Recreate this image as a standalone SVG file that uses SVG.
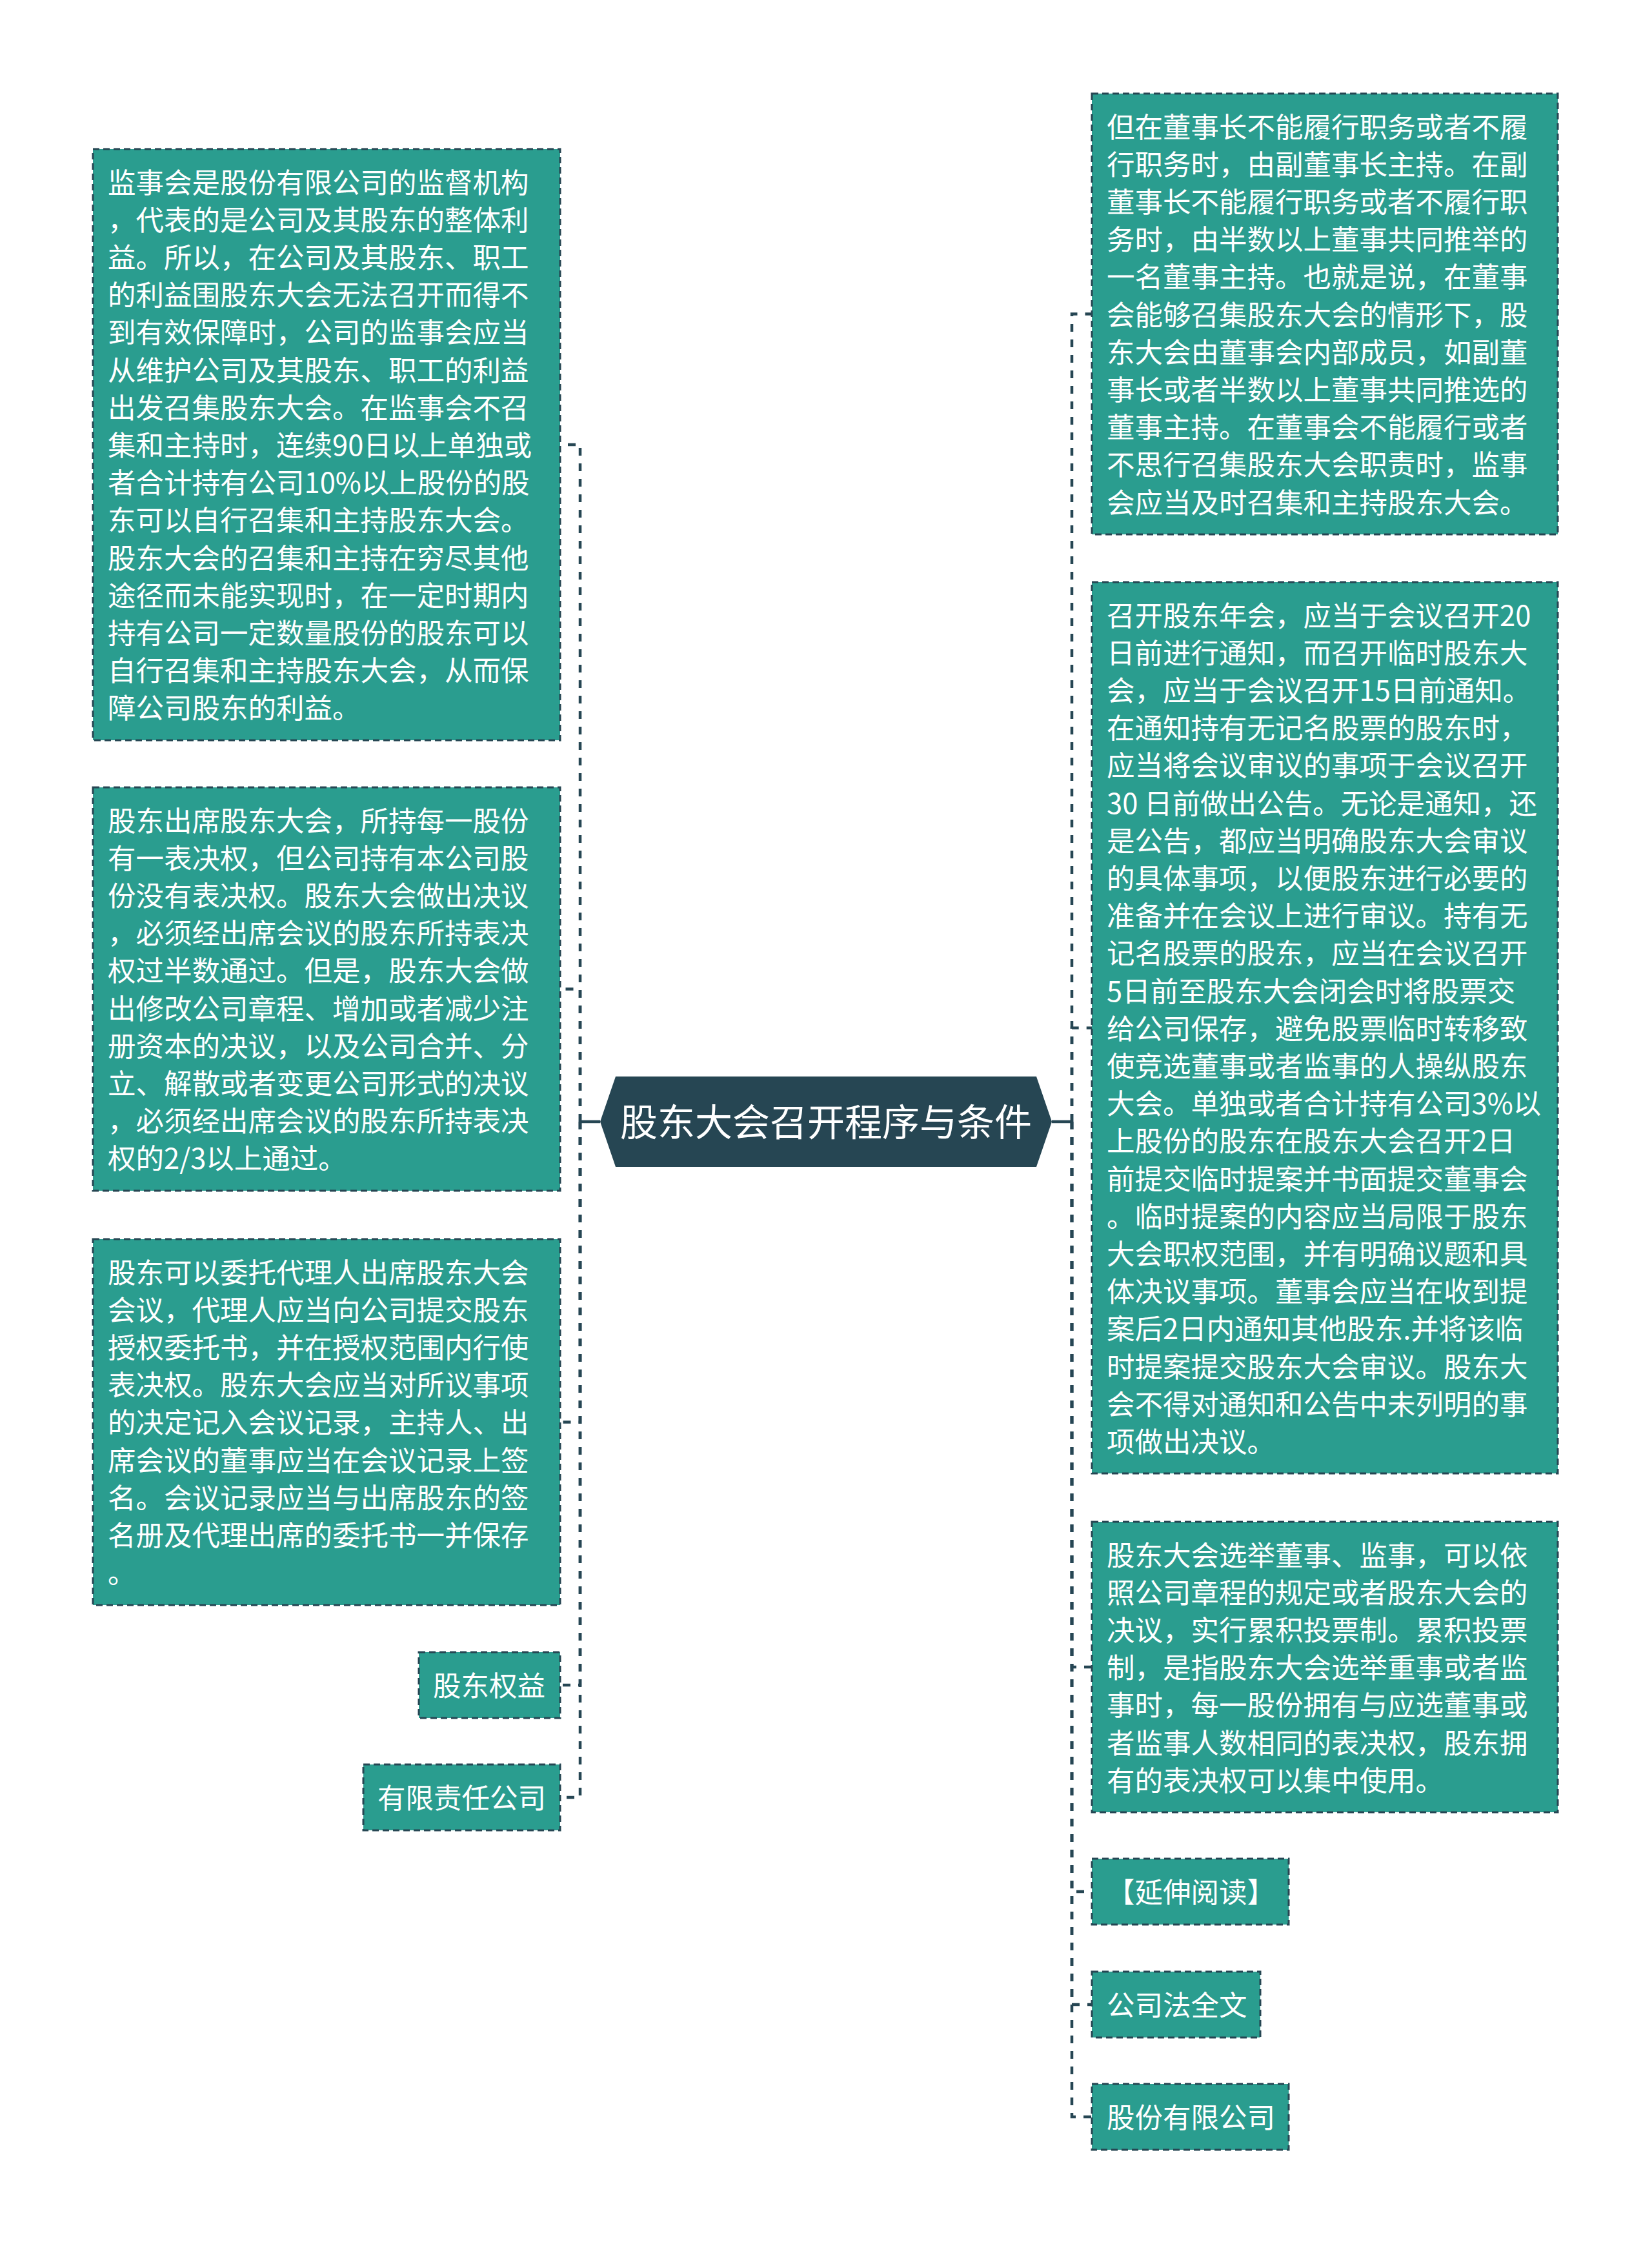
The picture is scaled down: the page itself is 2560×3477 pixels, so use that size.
<svg xmlns="http://www.w3.org/2000/svg" width="2560" height="3477" viewBox="0 0 2560 3477">
<style>
.box{fill:#2A9D8F;stroke:#264653;stroke-width:3;stroke-dasharray:10 6;}
.t{font-family:"Noto Sans CJK SC","Noto Sans",sans-serif;font-size:43.5px;fill:#FFFFFF;}
.c{fill:none;stroke:#264653;stroke-width:4.5;stroke-dasharray:12 12;}
.s{fill:none;stroke:#264653;stroke-width:4.5;}
.ct{font-family:"Noto Sans CJK SC","Noto Sans",sans-serif;font-size:58px;fill:#FFFFFF;}
</style>
<rect width="2560" height="3477" fill="#FFFFFF"/>
<g id="connectors">
<path class="s" d="M899 1738 H930"/>
<path class="s" d="M1630 1738 H1661"/>
<path class="c" d="M899 1738 V689 H868"/>
<path class="c" d="M899 1738 V1532.5 H868"/>
<path class="c" d="M899 1738 V2203.5 H868"/>
<path class="c" d="M899 1738 V2611 H868"/>
<path class="c" d="M899 1738 V2785 H868"/>
<path class="c" d="M1661 1738 V486.5 H1692"/>
<path class="c" d="M1661 1738 V1592.7 H1692"/>
<path class="c" d="M1661 1738 V2583 H1692"/>
<path class="c" d="M1661 1738 V2931 H1692"/>
<path class="c" d="M1661 1738 V3106 H1692"/>
<path class="c" d="M1661 1738 V3280 H1692"/>
</g>
<g id="center">
<polygon points="930,1738 954,1668 1606,1668 1630,1738 1606,1808 954,1808" fill="#264653"/>
<text class="ct" x="1280" y="1760" text-anchor="middle">股东大会召开程序与条件</text>
</g>
<g id="L1">
<rect class="box" x="144" y="231" width="724" height="916"/>
<text class="t" x="167" y="298.5"><tspan x="167">监事会是股份有限公司的监督机构</tspan><tspan x="167" dy="58.2">，代表的是公司及其股东的整体利</tspan><tspan x="167" dy="58.2">益。所以，在公司及其股东、职工</tspan><tspan x="167" dy="58.2">的利益围股东大会无法召开而得不</tspan><tspan x="167" dy="58.2">到有效保障时，公司的监事会应当</tspan><tspan x="167" dy="58.2">从维护公司及其股东、职工的利益</tspan><tspan x="167" dy="58.2">出发召集股东大会。在监事会不召</tspan><tspan x="167" dy="58.2">集和主持时，连续90日以上单独或</tspan><tspan x="167" dy="58.2">者合计持有公司10%以上股份的股</tspan><tspan x="167" dy="58.2">东可以自行召集和主持股东大会。</tspan><tspan x="167" dy="58.2">股东大会的召集和主持在穷尽其他</tspan><tspan x="167" dy="58.2">途径而未能实现时，在一定时期内</tspan><tspan x="167" dy="58.2">持有公司一定数量股份的股东可以</tspan><tspan x="167" dy="58.2">自行召集和主持股东大会，从而保</tspan><tspan x="167" dy="58.2">障公司股东的利益。</tspan></text>
</g>
<g id="L2">
<rect class="box" x="144" y="1220" width="724" height="625"/>
<text class="t" x="167" y="1287.5"><tspan x="167">股东出席股东大会，所持每一股份</tspan><tspan x="167" dy="58.2">有一表决权，但公司持有本公司股</tspan><tspan x="167" dy="58.2">份没有表决权。股东大会做出决议</tspan><tspan x="167" dy="58.2">，必须经出席会议的股东所持表决</tspan><tspan x="167" dy="58.2">权过半数通过。但是，股东大会做</tspan><tspan x="167" dy="58.2">出修改公司章程、增加或者减少注</tspan><tspan x="167" dy="58.2">册资本的决议，以及公司合并、分</tspan><tspan x="167" dy="58.2">立、解散或者变更公司形式的决议</tspan><tspan x="167" dy="58.2">，必须经出席会议的股东所持表决</tspan><tspan x="167" dy="58.2">权的2/3以上通过。</tspan></text>
</g>
<g id="L3">
<rect class="box" x="144" y="1920" width="724" height="567"/>
<text class="t" x="167" y="1987.5"><tspan x="167">股东可以委托代理人出席股东大会</tspan><tspan x="167" dy="58.2">会议，代理人应当向公司提交股东</tspan><tspan x="167" dy="58.2">授权委托书，并在授权范围内行使</tspan><tspan x="167" dy="58.2">表决权。股东大会应当对所议事项</tspan><tspan x="167" dy="58.2">的决定记入会议记录，主持人、出</tspan><tspan x="167" dy="58.2">席会议的董事应当在会议记录上签</tspan><tspan x="167" dy="58.2">名。会议记录应当与出席股东的签</tspan><tspan x="167" dy="58.2">名册及代理出席的委托书一并保存</tspan><tspan x="167" dy="58.2">。</tspan></text>
</g>
<g id="L4">
<rect class="box" x="649" y="2560" width="219" height="102"/>
<text class="t" x="671" y="2627.5">股东权益</text>
</g>
<g id="L5">
<rect class="box" x="563" y="2734" width="305" height="102"/>
<text class="t" x="585" y="2801.5">有限责任公司</text>
</g>
<g id="R1">
<rect class="box" x="1692" y="145" width="722" height="683"/>
<text class="t" x="1715" y="212.5"><tspan x="1715">但在董事长不能履行职务或者不履</tspan><tspan x="1715" dy="58.2">行职务时，由副董事长主持。在副</tspan><tspan x="1715" dy="58.2">董事长不能履行职务或者不履行职</tspan><tspan x="1715" dy="58.2">务时，由半数以上董事共同推举的</tspan><tspan x="1715" dy="58.2">一名董事主持。也就是说，在董事</tspan><tspan x="1715" dy="58.2">会能够召集股东大会的情形下，股</tspan><tspan x="1715" dy="58.2">东大会由董事会内部成员，如副董</tspan><tspan x="1715" dy="58.2">事长或者半数以上董事共同推选的</tspan><tspan x="1715" dy="58.2">董事主持。在董事会不能履行或者</tspan><tspan x="1715" dy="58.2">不思行召集股东大会职责时，监事</tspan><tspan x="1715" dy="58.2">会应当及时召集和主持股东大会。</tspan></text>
</g>
<g id="R2">
<rect class="box" x="1692" y="902" width="722" height="1381"/>
<text class="t" x="1715" y="969.5"><tspan x="1715">召开股东年会，应当于会议召开20</tspan><tspan x="1715" dy="58.2">日前进行通知，而召开临时股东大</tspan><tspan x="1715" dy="58.2">会，应当于会议召开15日前通知。</tspan><tspan x="1715" dy="58.2">在通知持有无记名股票的股东时，</tspan><tspan x="1715" dy="58.2">应当将会议审议的事项于会议召开</tspan><tspan x="1715" dy="58.2">30 日前做出公告。无论是通知，还</tspan><tspan x="1715" dy="58.2">是公告，都应当明确股东大会审议</tspan><tspan x="1715" dy="58.2">的具体事项，以便股东进行必要的</tspan><tspan x="1715" dy="58.2">准备并在会议上进行审议。持有无</tspan><tspan x="1715" dy="58.2">记名股票的股东，应当在会议召开</tspan><tspan x="1715" dy="58.2">5日前至股东大会闭会时将股票交</tspan><tspan x="1715" dy="58.2">给公司保存，避免股票临时转移致</tspan><tspan x="1715" dy="58.2">使竞选董事或者监事的人操纵股东</tspan><tspan x="1715" dy="58.2">大会。单独或者合计持有公司3%以</tspan><tspan x="1715" dy="58.2">上股份的股东在股东大会召开2日</tspan><tspan x="1715" dy="58.2">前提交临时提案并书面提交董事会</tspan><tspan x="1715" dy="58.2">。临时提案的内容应当局限于股东</tspan><tspan x="1715" dy="58.2">大会职权范围，并有明确议题和具</tspan><tspan x="1715" dy="58.2">体决议事项。董事会应当在收到提</tspan><tspan x="1715" dy="58.2">案后2日内通知其他股东.并将该临</tspan><tspan x="1715" dy="58.2">时提案提交股东大会审议。股东大</tspan><tspan x="1715" dy="58.2">会不得对通知和公告中未列明的事</tspan><tspan x="1715" dy="58.2">项做出决议。</tspan></text>
</g>
<g id="R3">
<rect class="box" x="1692" y="2358" width="722" height="450"/>
<text class="t" x="1715" y="2425.5"><tspan x="1715">股东大会选举董事、监事，可以依</tspan><tspan x="1715" dy="58.2">照公司章程的规定或者股东大会的</tspan><tspan x="1715" dy="58.2">决议，实行累积投票制。累积投票</tspan><tspan x="1715" dy="58.2">制，是指股东大会选举重事或者监</tspan><tspan x="1715" dy="58.2">事时，每一股份拥有与应选董事或</tspan><tspan x="1715" dy="58.2">者监事人数相同的表决权，股东拥</tspan><tspan x="1715" dy="58.2">有的表决权可以集中使用。</tspan></text>
</g>
<g id="R4">
<rect class="box" x="1692" y="2880" width="305" height="102"/>
<text class="t" x="1715" y="2947.5">【延伸阅读】</text>
</g>
<g id="R5">
<rect class="box" x="1692" y="3055" width="261" height="102"/>
<text class="t" x="1715" y="3122.5">公司法全文</text>
</g>
<g id="R6">
<rect class="box" x="1692" y="3229" width="305" height="102"/>
<text class="t" x="1715" y="3296.5">股份有限公司</text>
</g>
</svg>
